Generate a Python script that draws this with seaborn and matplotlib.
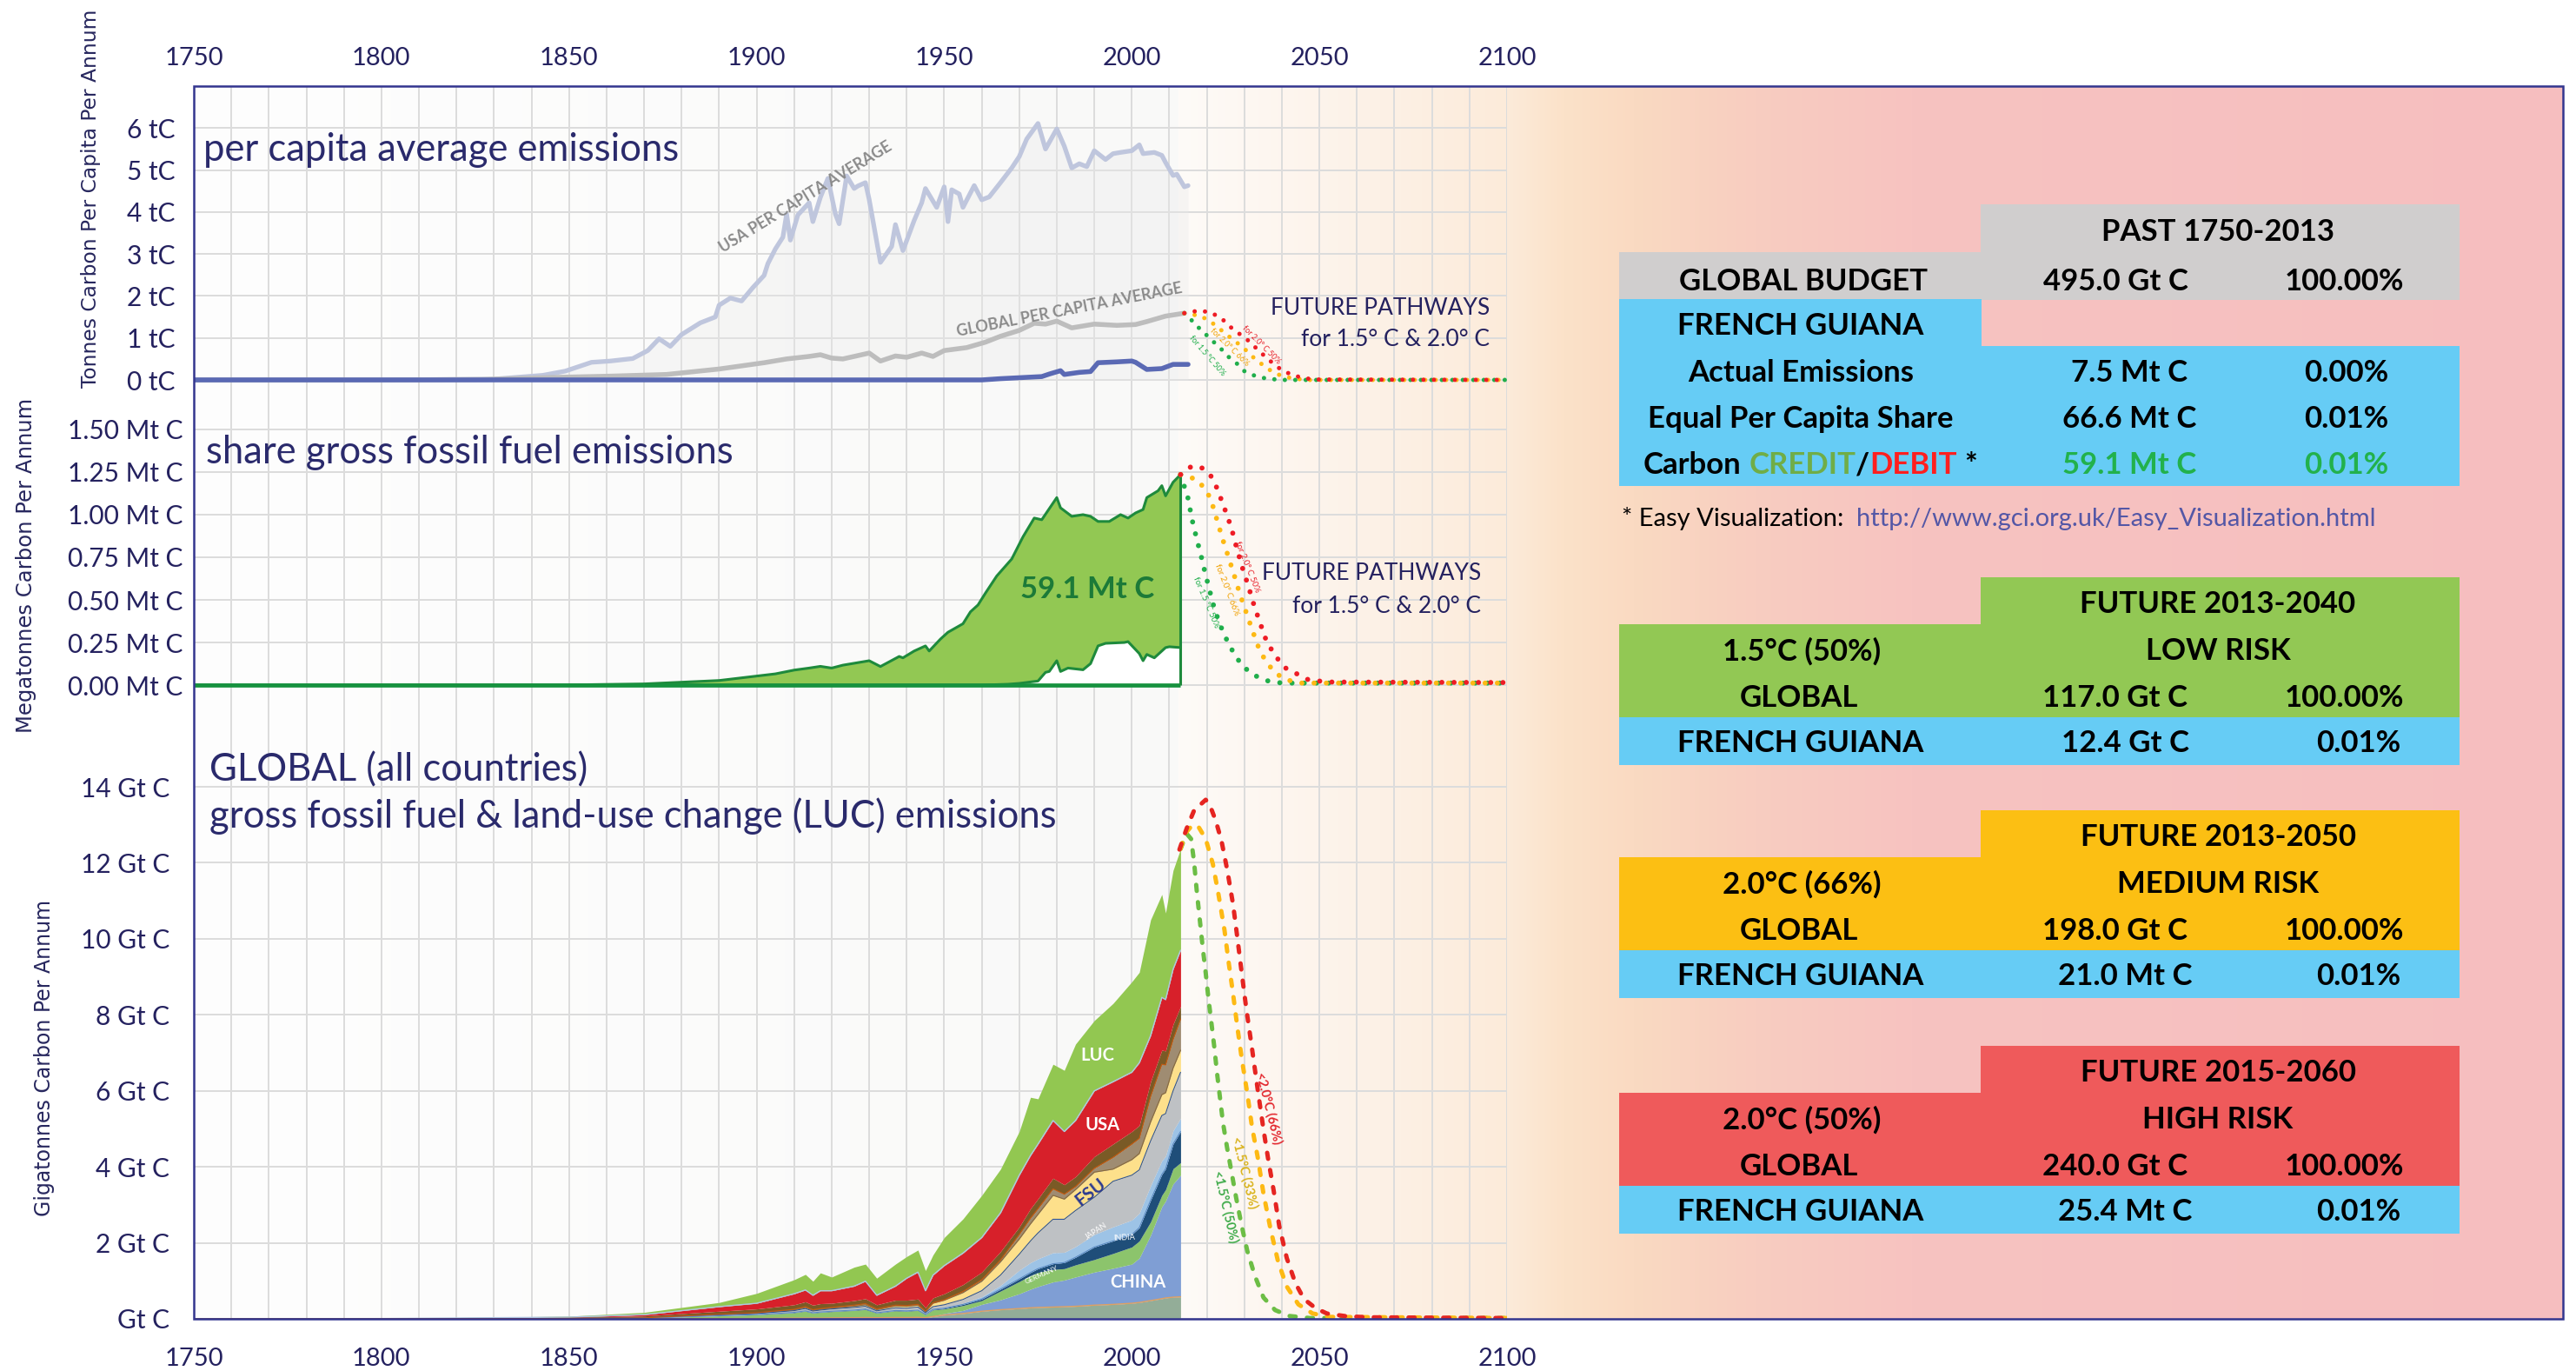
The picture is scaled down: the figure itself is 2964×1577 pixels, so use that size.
import numpy as np
import matplotlib
matplotlib.use("Agg")
import matplotlib.pyplot as plt
import seaborn as sns
from matplotlib.patches import Rectangle
from matplotlib.ticker import MultipleLocator

sns.set_theme(style="white")
plt.rcParams['font.family'] = ['Lato', 'DejaVu Sans']

# ------------------------------------------------------------------ DATA
# Panel 1 : per capita emissions (tonnes C per person per year)
usa_pc_years = [1750, 1800, 1830, 1843, 1849, 1856, 1861, 1867, 1871, 1874, 1877, 1880, 1885, 1889, 1890,
                1893, 1896, 1899, 1902, 1903, 1905, 1907, 1908, 1909, 1911, 1914, 1915, 1917, 1919, 1921,
                1922, 1924, 1926, 1927, 1929, 1930, 1933, 1936, 1937, 1939, 1942, 1944, 1945, 1948, 1950,
                1951, 1952, 1954, 1955, 1958, 1960, 1962, 1965, 1968, 1970, 1972, 1975, 1977, 1980, 1982,
                1984, 1986, 1988, 1990, 1993, 1995, 1997, 2000, 2002, 2003, 2006, 2008, 2009, 2011, 2012,
                2014, 2015]
usa_pc = [0.0, 0.0, 0.02, 0.11, 0.21, 0.42, 0.45, 0.51, 0.70, 0.98, 0.80, 1.08, 1.36, 1.50, 1.78,
          1.95, 1.88, 2.20, 2.49, 2.77, 3.12, 3.40, 3.95, 3.33, 3.93, 4.22, 3.77, 4.35, 4.80, 3.95,
          3.72, 4.86, 4.56, 4.62, 4.70, 4.30, 2.80, 3.18, 3.70, 3.08, 3.80, 4.22, 4.56, 4.11, 4.60,
          3.77, 4.53, 4.43, 4.11, 4.63, 4.29, 4.36, 4.70, 5.05, 5.32, 5.74, 6.11, 5.50, 5.98, 5.57,
          5.05, 5.15, 5.08, 5.46, 5.25, 5.39, 5.42, 5.46, 5.60, 5.39, 5.42, 5.35, 5.18, 4.87, 4.90,
          4.60, 4.63]
global_pc_years = [1750, 1800, 1827, 1846, 1861, 1876, 1890, 1902, 1908, 1914, 1917, 1920, 1923, 1930, 1933,
                   1937, 1940, 1944, 1947, 1950, 1956, 1961, 1965, 1970, 1974, 1977, 1980, 1984, 1990, 1996,
                   2001, 2004, 2009, 2014]
global_pc = [0.0, 0.0, 0.01, 0.06, 0.09, 0.13, 0.26, 0.41, 0.50, 0.56, 0.60, 0.52, 0.50, 0.64, 0.45,
             0.57, 0.54, 0.64, 0.56, 0.70, 0.77, 0.90, 1.04, 1.18, 1.35, 1.33, 1.40, 1.24, 1.33, 1.30,
             1.32, 1.39, 1.52, 1.59]
fg_pc_years = [1750, 1960, 1965, 1976, 1978, 1981, 1982, 1986, 1989, 1991, 1996, 2000, 2001, 2004, 2008, 2011, 2015]
fg_pc = [0.0, 0.0, 0.03, 0.08, 0.14, 0.22, 0.13, 0.18, 0.20, 0.41, 0.43, 0.45, 0.42, 0.25, 0.27, 0.37, 0.37]

pc_p15_years = [2014, 2015, 2016.5, 2019, 2021, 2023.5, 2025.5, 2028, 2030, 2033, 2036, 2040, 2100]
pc_p15 = [1.59, 1.54, 1.35, 1.15, 0.97, 0.77, 0.57, 0.39, 0.21, 0.09, 0.03, 0.0, 0.0]
pc_p2066_years = [2014, 2015, 2018, 2021, 2023.5, 2025.7, 2028, 2030.4, 2032.6, 2035, 2037.7, 2040.4, 2043.5, 2047, 2100]
pc_p2066 = [1.59, 1.56, 1.54, 1.39, 1.21, 1.05, 0.89, 0.71, 0.52, 0.35, 0.18, 0.08, 0.03, 0.0, 0.0]
pc_p2050_years = [2014, 2015, 2018, 2021, 2024, 2026, 2028.5, 2031, 2033, 2035.5, 2037.7, 2040, 2043, 2046, 2049, 2100]
pc_p2050 = [1.59, 1.61, 1.65, 1.61, 1.46, 1.28, 1.11, 0.94, 0.77, 0.56, 0.39, 0.23, 0.11, 0.04, 0.01, 0.0]

# Panel 2 : French Guiana share (Mt C per year)
share_years = [1750, 1800, 1846, 1870, 1890, 1905, 1910, 1914, 1917, 1920, 1923, 1930, 1933, 1938, 1939,
               1942, 1945, 1946, 1949, 1951, 1955, 1957, 1959, 1961, 1964, 1968, 1971, 1974, 1976, 1980,
               1981, 1984, 1987, 1989, 1991, 1994, 1997, 1999, 2001, 2003, 2004, 2007, 2008, 2009, 2011, 2013]
share_vals = [0.0, 0.0, 0.0, 0.007, 0.027, 0.066, 0.088, 0.10, 0.11, 0.10, 0.117, 0.143, 0.109, 0.168, 0.16,
              0.20, 0.23, 0.20, 0.27, 0.31, 0.36, 0.43, 0.47, 0.54, 0.64, 0.74, 0.87, 0.98, 0.97, 1.10,
              1.04, 0.99, 1.00, 0.99, 0.96, 0.96, 1.00, 0.98, 1.01, 1.03, 1.10, 1.14, 1.17, 1.11, 1.19, 1.235]
actual_years = [1750, 1960, 1967, 1970, 1975, 1977, 1978, 1980, 1981, 1983, 1987, 1989, 1991, 1993, 1998,
                1999, 2002, 2003, 2004, 2006, 2009, 2010, 2013]
actual_vals = [0.0, 0.0, 0.005, 0.01, 0.024, 0.075, 0.08, 0.143, 0.08, 0.10, 0.09, 0.126, 0.23, 0.245, 0.25,
               0.255, 0.185, 0.143, 0.18, 0.16, 0.22, 0.225, 0.22]

share_p15_years = [2013, 2015, 2016, 2017.3, 2018.5, 2019.6, 2020.8, 2022, 2023.5, 2025, 2027, 2029.3, 2032, 2035, 2038, 2042, 2100]
share_p15 = [1.235, 1.095, 0.976, 0.857, 0.755, 0.653, 0.55, 0.449, 0.355, 0.279, 0.194, 0.117, 0.066, 0.032, 0.015, 0.012, 0.012]
share_p2066_years = [2013, 2015, 2017, 2019.2, 2021, 2022.6, 2024.2, 2025.7, 2027.3, 2028.8, 2030.4, 2032, 2033.5, 2035.4, 2038, 2041, 2045, 2100]
share_p2066 = [1.235, 1.22, 1.21, 1.16, 1.095, 0.976, 0.857, 0.755, 0.644, 0.534, 0.432, 0.33, 0.236, 0.151, 0.075, 0.032, 0.012, 0.012]
share_p2050_years = [2013, 2016, 2018.8, 2021, 2022.6, 2024.5, 2026.5, 2028, 2029.5, 2031, 2032.6, 2034.2, 2035.7, 2038, 2041, 2044, 2047, 2052, 2100]
share_p2050 = [1.235, 1.285, 1.273, 1.23, 1.16, 1.05, 0.925, 0.80, 0.687, 0.585, 0.466, 0.364, 0.27, 0.177, 0.10, 0.066, 0.032, 0.018, 0.015]

# Panel 3 : global stacked emissions (Gt C per year), cumulative band tops
stack_years = [1750, 1800, 1850, 1870, 1890, 1900, 1910, 1913, 1915, 1917, 1920, 1926, 1929, 1932, 1937,
               1940, 1943, 1945, 1947, 1950, 1955, 1960, 1965, 1970, 1973, 1975, 1979, 1982, 1985, 1990,
               1995, 2000, 2002, 2005, 2008, 2009, 2011, 2013]
low_top = [0, 0, 0.001, 0.002, 0.008, 0.010, 0.020, 0.020, 0.020, 0.020, 0.025, 0.030, 0.035, 0.030, 0.035,
           0.035, 0.040, 0.030, 0.060, 0.10, 0.14, 0.20, 0.24, 0.27, 0.29, 0.30, 0.31, 0.32, 0.33, 0.36,
           0.38, 0.41, 0.43, 0.48, 0.53, 0.55, 0.57, 0.58]
china_top = [0, 0, 0.002, 0.003, 0.012, 0.015, 0.025, 0.030, 0.030, 0.030, 0.035, 0.040, 0.045, 0.040, 0.050,
             0.050, 0.050, 0.040, 0.070, 0.14, 0.22, 0.38, 0.50, 0.66, 0.78, 0.85, 0.97, 1.02, 1.10, 1.23,
             1.33, 1.44, 1.60, 2.20, 2.95, 3.10, 3.55, 3.78]
europe_top = [0, 0.001, 0.010, 0.020, 0.078, 0.105, 0.160, 0.200, 0.150, 0.170, 0.190, 0.220, 0.245, 0.150, 0.210,
              0.200, 0.220, 0.110, 0.235, 0.26, 0.35, 0.48, 0.73, 0.98, 1.14, 1.22, 1.30, 1.32, 1.42, 1.56,
              1.72, 1.89, 2.05, 2.55, 3.25, 3.40, 3.95, 4.11]
india_top = [0, 0.001, 0.010, 0.020, 0.080, 0.110, 0.170, 0.210, 0.160, 0.180, 0.200, 0.230, 0.260, 0.160, 0.220,
             0.210, 0.230, 0.120, 0.250, 0.28, 0.38, 0.52, 0.78, 1.05, 1.22, 1.32, 1.45, 1.48, 1.62, 1.89,
             2.05, 2.22, 2.40, 3.12, 3.80, 3.95, 4.60, 4.93]
japan_top = [0, 0.001, 0.010, 0.020, 0.083, 0.115, 0.178, 0.220, 0.168, 0.190, 0.210, 0.242, 0.275, 0.170, 0.235,
             0.228, 0.250, 0.125, 0.260, 0.30, 0.41, 0.58, 0.88, 1.28, 1.48, 1.58, 1.74, 1.75, 1.90, 2.22,
             2.42, 2.60, 2.78, 3.50, 4.16, 4.28, 4.95, 5.28]
grey_top = [0, 0.001, 0.012, 0.024, 0.105, 0.140, 0.215, 0.270, 0.205, 0.230, 0.260, 0.300, 0.330, 0.210, 0.290,
            0.280, 0.310, 0.160, 0.320, 0.37, 0.51, 0.74, 1.15, 1.70, 2.05, 2.26, 2.62, 2.62, 2.85, 3.20,
            3.62, 3.78, 3.92, 4.68, 5.35, 5.40, 6.00, 6.49]
fsu_top = [0, 0.001, 0.012, 0.024, 0.110, 0.150, 0.235, 0.300, 0.225, 0.250, 0.280, 0.330, 0.370, 0.240, 0.340,
           0.330, 0.360, 0.190, 0.410, 0.49, 0.69, 0.99, 1.50, 2.10, 2.50, 2.75, 3.25, 3.15, 3.40, 3.86,
           3.94, 4.19, 4.35, 5.18, 5.90, 5.95, 6.60, 7.07]
misc_top = [0, 0.001, 0.012, 0.025, 0.120, 0.160, 0.250, 0.320, 0.240, 0.270, 0.300, 0.360, 0.400, 0.260, 0.360,
            0.350, 0.380, 0.200, 0.420, 0.50, 0.72, 1.03, 1.55, 2.22, 2.65, 2.90, 3.42, 3.28, 3.48, 3.96,
            4.25, 4.60, 4.75, 5.85, 6.70, 6.68, 7.35, 7.89]
uk_top = [0.002, 0.008, 0.035, 0.075, 0.20, 0.26, 0.37, 0.45, 0.36, 0.40, 0.41, 0.48, 0.53, 0.37, 0.49,
          0.49, 0.52, 0.29, 0.55, 0.66, 0.90, 1.23, 1.77, 2.42, 2.90, 3.16, 3.70, 3.53, 3.74, 4.27,
          4.60, 4.93, 5.09, 6.24, 7.07, 7.05, 7.75, 8.22]
usa_top = [0.002, 0.008, 0.045, 0.11, 0.32, 0.41, 0.66, 0.76, 0.62, 0.74, 0.74, 0.86, 0.99, 0.62, 0.86,
           1.07, 1.23, 0.74, 1.15, 1.40, 1.73, 2.14, 2.79, 3.78, 4.30, 4.60, 5.22, 4.93, 5.22, 6.00,
           6.24, 6.49, 6.74, 7.45, 8.46, 8.40, 9.20, 9.70]
luc_top = [0.003, 0.010, 0.070, 0.17, 0.43, 0.67, 1.03, 1.17, 0.99, 1.21, 1.10, 1.36, 1.44, 1.07, 1.44,
           1.64, 1.81, 1.27, 1.68, 2.14, 2.63, 3.25, 3.94, 4.93, 5.83, 5.79, 6.70, 6.54, 7.23, 7.85,
           8.30, 8.87, 9.12, 10.50, 11.17, 10.68, 11.80, 12.37]

glob_p2066_years = [2012.7, 2014.6, 2016.6, 2019.7, 2020.8, 2022.4, 2023.9, 2025.4, 2027, 2028.1, 2029.3, 2030.5, 2032,
                    2033.6, 2035.1, 2036.3, 2037.8, 2039.3, 2041.3, 2043.6, 2045.9, 2049, 2052, 2057, 2063, 2100]
glob_p2066 = [12.35, 12.9, 13.38, 13.66, 13.52, 13.1, 12.58, 11.83, 10.9, 10.05, 9.1, 8.17, 7.14,
              6.0, 4.98, 4.23, 3.38, 2.44, 1.6, 0.94, 0.52, 0.28, 0.14, 0.07, 0.04, 0.02]
glob_p1533_years = [2013, 2014.2, 2016.2, 2017.7, 2019.7, 2021.6, 2023.1, 2024.7, 2025.8, 2027, 2028.1, 2029.3,
                    2030.8, 2032, 2033.6, 2035.1, 2037, 2039, 2041.3, 2044.4, 2048.2, 2053, 2100]
glob_p1533 = [12.37, 12.77, 13.0, 12.96, 12.63, 11.97, 11.17, 10.23, 9.39, 8.54, 7.7, 6.85,
              5.92, 5.07, 4.23, 3.29, 2.35, 1.5, 0.85, 0.38, 0.14, 0.05, 0.02]
glob_p1550_years = [2013, 2014.6, 2015.8, 2016.6, 2017.3, 2018.1, 2018.9, 2019.7, 2020.4, 2021.2, 2022, 2022.7,
                    2023.5, 2024.3, 2025.4, 2026.6, 2027.8, 2029.3, 2030.8, 2032.8, 2035.1, 2038.2, 2042, 2047.5, 2100]
glob_p1550 = [12.37, 12.77, 12.63, 12.02, 11.27, 10.52, 9.77, 9.1, 8.45, 7.8, 7.14, 6.48,
              5.82, 5.16, 4.5, 3.85, 3.19, 2.44, 1.78, 1.13, 0.56, 0.23, 0.075, 0.02, 0.02]

# tick labels
year_ticks = [1750, 1800, 1850, 1900, 1950, 2000, 2050, 2100]
pc_ticks = [0, 1, 2, 3, 4, 5, 6]
pc_labels = ['0 tC', '1 tC', '2 tC', '3 tC', '4 tC', '5 tC', '6 tC']
mt_ticks = [0, 0.25, 0.5, 0.75, 1.0, 1.25, 1.5]
mt_labels = ['0.00 Mt C', '0.25 Mt C', '0.50 Mt C', '0.75 Mt C', '1.00 Mt C', '1.25 Mt C', '1.50 Mt C']
gt_ticks = [0, 2, 4, 6, 8, 10, 12, 14]
gt_labels = ['Gt C', '2 Gt C', '4 Gt C', '6 Gt C', '8 Gt C', '10 Gt C', '12 Gt C', '14 Gt C']

# tables
past_rows = [("GLOBAL BUDGET", "495.0 Gt C", "100.00%"),
             ("Actual Emissions", "7.5 Mt C", "0.00%"),
             ("Equal Per Capita Share", "66.6 Mt C", "0.01%"),
             ("CREDIT_ROW", "59.1 Mt C", "0.01%")]
future_heads = ["FUTURE 2013-2040", "FUTURE 2013-2050", "FUTURE 2015-2060"]
future_temps = ["1.5°C (50%)", "2.0°C (66%)", "2.0°C (50%)"]
future_risk = ["LOW RISK", "MEDIUM RISK", "HIGH RISK"]
future_global = ["117.0 Gt C", "198.0 Gt C", "240.0 Gt C"]
future_country = ["12.4 Gt C", "21.0 Mt C", "25.4 Mt C"]
future_country_pct = ["0.01%", "0.01%", "0.01%"]

# ------------------------------------------------------------------ FIGURE
W, H, DPI = 2964, 1577, 100
NAVY = '#24215F'
GRID = '#DCDCDC'
fig = plt.figure(figsize=(W / DPI, H / DPI), dpi=DPI)
fig.patch.set_facecolor('white')


def frac(x0, y0, x1, y1):
    return [x0 / W, 1 - y1 / H, (x1 - x0) / W, (y1 - y0) / H]


FX0, FY0, FX1, FY1 = 223, 99, 2949, 1517
PX1 = 1734

# background gradient
bg = fig.add_axes(frac(FX0, FY0, FX1, FY1), zorder=0)
xs = np.arange(FX0, FX1 + 1)
stop_x = [223, 1355, 1356, 1515, 1734, 1800, 1880, 2020, 2200, 2949]
stop_c = [(254, 254, 254), (249, 249, 248), (254, 251, 248), (253, 244, 236), (252, 235, 218),
          (251, 226, 201), (250, 218, 194), (248, 205, 192), (247, 195, 193), (246, 190, 191)]
img = np.stack([np.interp(xs, stop_x, [c[k] for c in stop_c]) for k in range(3)], -1)[None, :, :] / 255.0
bg.imshow(img, aspect='auto', extent=[FX0, FX1, FY1, FY0], interpolation='nearest')
bg.set_xlim(FX0, FX1)
bg.set_ylim(FY1, FY0)
bg.axis('off')

ax1 = fig.add_axes(frac(FX0, 99, PX1, 460), zorder=1)
ax2 = fig.add_axes(frac(FX0, 460, PX1, 850), zorder=2)
ax3 = fig.add_axes(frac(FX0, 850, PX1, 1517), zorder=3)


def style_panel(ax, ylim, ticks, labels, pad):
    ax.set_xlim(1750, 2100)
    ax.set_ylim(*ylim)
    ax.patch.set_alpha(0)
    for s in ax.spines.values():
        s.set_visible(False)
    ax.xaxis.set_major_locator(MultipleLocator(50))
    ax.xaxis.set_minor_locator(MultipleLocator(10))
    ax.set_yticks(ticks)
    ax.set_yticklabels(labels)
    ax.grid(True, which='both', axis='x', color=GRID, lw=1.4)
    ax.grid(True, which='major', axis='y', color=GRID, lw=1.4)
    ax.set_axisbelow(True)
    ax.tick_params(axis='y', length=0, pad=pad, labelsize=21.5, labelcolor=NAVY)
    ax.tick_params(axis='x', which='both', length=0, labelbottom=False, labeltop=False,
                   labelsize=21, labelcolor=NAVY)
    ax.set_xlabel('')
    ax.set_ylabel('')


DOT = (0, (0.01, 2.4))
DASH = (0, (1.4, 2.6))
GREEN_P, YELLOW_P, RED_P = '#20AE4B', '#FDB913', '#EE1C25'

# ---- panel 1
ax1.fill_between(usa_pc_years, usa_pc, 0, color='#EAEAEA', alpha=0.35, lw=0, zorder=1)
sns.lineplot(x=usa_pc_years, y=usa_pc, ax=ax1, color='#BFC6DD', linewidth=3.8, zorder=3)
sns.lineplot(x=global_pc_years, y=global_pc, ax=ax1, color='#BDBDBD', linewidth=4.0, zorder=4)
sns.lineplot(x=fg_pc_years, y=fg_pc, ax=ax1, color='#5A69B4', linewidth=4.0, zorder=5)
ax1.plot(pc_p15_years, pc_p15, color=GREEN_P, lw=3.6, ls=DOT, dash_capstyle='round', zorder=6)
ax1.plot(pc_p2066_years, pc_p2066, color=YELLOW_P, lw=3.6, ls=DOT, dash_capstyle='round', zorder=7)
ax1.plot(pc_p2050_years, pc_p2050, color=RED_P, lw=3.6, ls=DOT, dash_capstyle='round', zorder=8)
style_panel(ax1, (-0.476, 7.0), pc_ticks, pc_labels, 15.5)
ax1.set_xticks(year_ticks)
ax1.tick_params(axis='x', which='major', labeltop=True, pad=14)

# ---- panel 2
ax2.fill_between(share_years, share_vals, 0, color='#92C853', lw=0, zorder=2)
ax2.fill_between(actual_years, actual_vals, 0, color='white', lw=0, zorder=3)
sns.lineplot(x=share_years, y=share_vals, ax=ax2, color='#1E8A3C', linewidth=2.2, zorder=4)
sns.lineplot(x=actual_years, y=actual_vals, ax=ax2, color='#1E8A3C', linewidth=2.2, zorder=4)
ax2.hlines(0, share_years[0], share_years[-1], color='#17923F', lw=3.4, zorder=5)
ax2.vlines(share_years[-1], 0, share_vals[-1], color='#1E8A3C', lw=2.2, zorder=5)
ax2.plot(share_p15_years, share_p15, color=GREEN_P, lw=4.2, ls=DOT, dash_capstyle='round', zorder=6)
ax2.plot(share_p2066_years, share_p2066, color=YELLOW_P, lw=4.2, ls=DOT, dash_capstyle='round', zorder=7)
ax2.plot(share_p2050_years, share_p2050, color=RED_P, lw=4.2, ls=DOT, dash_capstyle='round', zorder=8)
style_panel(ax2, (-0.316, 1.673), mt_ticks, mt_labels, 9)

# ---- panel 3
bounds = np.vstack([np.zeros(len(stack_years)), low_top, china_top, europe_top, india_top, japan_top,
                    grey_top, fsu_top, misc_top, uk_top, usa_top, luc_top])
layers = np.diff(bounds, axis=0)
stack_colors = ['#93AD98', '#7F9ED4', '#8CC46C', '#1F4E79', '#9DC3E6', '#BEC1C4', '#FDE08B',
                '#9F8C72', '#7A5A26', '#D7202A', '#92C751']
ax3.stackplot(stack_years, layers, colors=stack_colors, lw=0, zorder=2)
ax3.plot(stack_years, low_top, color='#E0A060', lw=1.0, zorder=3)
ax3.plot(stack_years, usa_top, color='#AFC6E2', lw=1.0, zorder=3)
ax3.plot(stack_years, fsu_top, color='#8A6B3A', lw=0.8, zorder=3)
ax3.plot(stack_years, grey_top, color='#2F5597', lw=0.8, zorder=3)
ax3.plot(stack_years, india_top, color='#5B8BC4', lw=0.8, zorder=3)
ax3.plot(stack_years, misc_top, color='#C55A11', lw=0.8, zorder=3)
ax3.plot(glob_p1550_years, glob_p1550, color='#6CBD45', lw=3.6, ls=DASH, dash_capstyle='round', zorder=6)
ax3.plot(glob_p1533_years, glob_p1533, color='#FDB913', lw=3.6, ls=DASH, dash_capstyle='round', zorder=7)
ax3.plot(glob_p2066_years, glob_p2066, color='#E52521', lw=3.6, ls=DASH, dash_capstyle='round', zorder=8)
style_panel(ax3, (0, 15.26), gt_ticks, gt_labels, 20)
ax3.set_xticks(year_ticks)
ax3.tick_params(axis='x', which='major', labelbottom=True, pad=24)

# ------------------------------------------------------------------ overlay (pixel space)
ov = fig.add_axes([0, 0, 1, 1], zorder=10)
ov.set_xlim(0, W)
ov.set_ylim(H, 0)
ov.axis('off')
ov.patch.set_alpha(0)

ov.add_patch(Rectangle((FX0, FY0), FX1 - FX0, FY1 - FY0, fill=False, edgecolor='#33358E', lw=1.8, zorder=20))


def cap(size):
    return size * DPI / 72 * 0.7165


def ctext(x, yc, s, size, color='black', weight='normal', ha='center', **kw):
    return ov.text(x, yc + cap(size) / 2, s, fontsize=size, color=color, fontweight=weight,
                   ha=ha, va='baseline', **kw)


def rtext(x, y, s, size, rot, color, weight='normal', family=None):
    kw = {}
    if family:
        kw['family'] = family
    return ov.text(x, y, s, fontsize=size, color=color, fontweight=weight, rotation=rot,
                   rotation_mode='anchor', ha='center', va='center', **kw)


# axis titles
rtext(105, 228, "Tonnes Carbon Per Capita Per Annum", 16.8, 90, '#27275E', family='DejaVu Sans')
rtext(30, 650, "Megatonnes Carbon Per Annum", 17.5, 90, '#27275E', family='DejaVu Sans')
rtext(51, 1217, "Gigatonnes Carbon Per Annum", 17, 90, '#27275E', family='DejaVu Sans')

TITLE = '#2A2A6C'
TS_T = 31.4
ov.text(234, 185, "per capita average emissions", fontsize=TS_T, color=TITLE, va='baseline')
ov.text(237, 533, "share gross fossil fuel emissions", fontsize=TS_T, color=TITLE, va='baseline')
ov.text(241, 898, "GLOBAL (all countries)", fontsize=TS_T, color=TITLE, va='baseline')
ov.text(241, 952, "gross fossil fuel & land-use change (LUC) emissions", fontsize=TS_T, color=TITLE, va='baseline')

for (xr, b1, b2) in [(1714, 362, 398), (1704, 667, 705)]:
    ov.text(xr, b1, "FUTURE PATHWAYS", fontsize=19, color=NAVY, ha='right', va='baseline')
    ov.text(xr, b2, "for 1.5° C & 2.0° C", fontsize=19, color=NAVY, ha='right', va='baseline')

# curve labels
rtext(927, 227, "USA PER CAPITA AVERAGE", 13, 31.4, '#8A8A8A', weight='bold')
rtext(1231, 356, "GLOBAL PER CAPITA AVERAGE", 13, 11, '#8A8A8A', weight='bold')
rtext(1389, 409, "for 1.5 °C 50%", 6.5, -49, GREEN_P)
rtext(1415, 399, "for 2.0° C 66%", 6.5, -44, '#F0A000')
rtext(1451, 397, "for 2.0° C 50%", 6.5, -45, '#E8202A')
rtext(1388, 693, "for 1.5 °C 50%", 7, -67, GREEN_P)
rtext(1412, 678, "for 2.0° C 66%", 7, -69, '#F0A000')
rtext(1435, 652, "for 2.0° C 50%", 7, -68, '#E8202A')
rtext(1251, 678, "59.1 Mt C", 25, 0, '#1C7A38', weight='bold')
rtext(1460, 1275, "<2.0°C (66%)", 10.5, -76, '#E3262D', weight='bold')
rtext(1432, 1349, "<1.5°C (33%)", 10.5, -76, '#D9B21A', weight='bold')
rtext(1410, 1388, "<1.5°C (50%)", 10.5, -77, '#3DAA48', weight='bold')

# stack labels
rtext(1263, 1214, "LUC", 14.5, 0, 'white', weight='bold')
rtext(1269, 1294, "USA", 14.5, 0, 'white', weight='bold')
rtext(1255, 1371, "FSU", 15, 38, '#2B3990', weight='bold')
rtext(1261, 1416, "JAPAN", 6.5, 33, 'white')
rtext(1293, 1424, "INDIA", 6.5, 3, 'white')
rtext(1198, 1466, "GERMANY", 6, 24, 'white')
rtext(1309, 1475, "CHINA", 14.5, 0, 'white', weight='bold')

# ------------------------------------------------------------------ tables
GREY_C, BLUE_C = '#D0CECE', '#66CCF5'
TABLE_C = ['#92C854', '#FCBF13', '#EF5A5B']


def rect(x0, y0, x1, y1, color):
    ov.add_patch(Rectangle((x0, y0), x1 - x0, y1 - y0, facecolor=color, edgecolor='none', zorder=2))


TS = 25
C1, C3, CH = 2072, 2700, 2552

# past table
rect(2279, 235, 2830, 291, GREY_C)
rect(1863, 290, 2830, 345, GREY_C)
rect(1863, 344, 2280, 399, BLUE_C)
rect(1863, 398, 2830, 559, BLUE_C)
ctext(CH, 265, "PAST 1750-2013", TS, weight='bold')
ctext(2075, 322, past_rows[0][0], TS, weight='bold')
ctext(2434, 322, past_rows[0][1], TS, weight='bold')
ctext(2697, 322, past_rows[0][2], TS, weight='bold')
ctext(C1, 373, "FRENCH GUIANA", TS, weight='bold')
for (lab, v, p), yc in zip(past_rows[1:3], [427, 480]):
    ctext(C1, yc, lab, TS, weight='bold')
    ctext(2450, yc, v, TS, weight='bold')
    ctext(C3, yc, p, TS, weight='bold')
ctext(2450, 533, past_rows[3][1], TS, color='#22B14C', weight='bold')
ctext(C3, 533, past_rows[3][2], TS, color='#22B14C', weight='bold')

renderer = fig.canvas.get_renderer()


def twidth(s, size, weight='bold'):
    t = ov.text(0, 0, s, fontsize=size, fontweight=weight)
    w = t.get_window_extent(renderer).width
    t.remove()
    return w


# multi-coloured "Carbon CREDIT/DEBIT *"
space_w = twidth("C C", TS) - twidth("CC", TS)
pieces = [("Carbon", 'black', True), ("CREDIT", '#70AD47', False), ("/", 'black', False),
          ("DEBIT", '#FF1F1F', True), ("*", 'black', False)]
widths = [twidth(p[0], TS) for p in pieces]
total = sum(widths) + space_w * sum(1 for p in pieces if p[2])
x = 2083 - total / 2
for (s, col, sp), w in zip(pieces, widths):
    ctext(x, 533, s, TS, color=col, weight='bold', ha='left')
    x += w + (space_w if sp else 0)

FS_N = 21
note_a = "* Easy Visualization:"
ov.text(1866, 605, note_a, fontsize=FS_N, color='black', va='baseline')
gap = 2 * (twidth("a a", FS_N, 'normal') - twidth("aa", FS_N, 'normal'))
ov.text(1866 + twidth(note_a, FS_N, 'normal') + gap, 605, "http://www.gci.org.uk/Easy_Visualization.html",
        fontsize=FS_N, color='#5457A6', va='baseline')

# future tables
tops = [664, 932, 1203]
for i, t0 in enumerate(tops):
    col = TABLE_C[i]
    rect(2279, t0, 2830, t0 + 55, col)
    rect(1863, t0 + 54, 2830, t0 + 162, col)
    rect(1863, t0 + 161, 2830, t0 + 216, BLUE_C)
    ctext(CH, t0 + 29, future_heads[i], TS, weight='bold')
    ctext(2073, t0 + 83, future_temps[i], TS, weight='bold')
    ctext(CH, t0 + 83, future_risk[i], TS, weight='bold')
    ctext(2070, t0 + 137, "GLOBAL", TS, weight='bold')
    ctext(2434, t0 + 137, future_global[i], TS, weight='bold')
    ctext(2697, t0 + 137, "100.00%", TS, weight='bold')
    ctext(C1, t0 + 189, "FRENCH GUIANA", TS, weight='bold')
    ctext(2445, t0 + 189, future_country[i], TS, weight='bold')
    ctext(2714, t0 + 189, future_country_pct[i], TS, weight='bold')

fig.savefig('out.png', dpi=DPI)
